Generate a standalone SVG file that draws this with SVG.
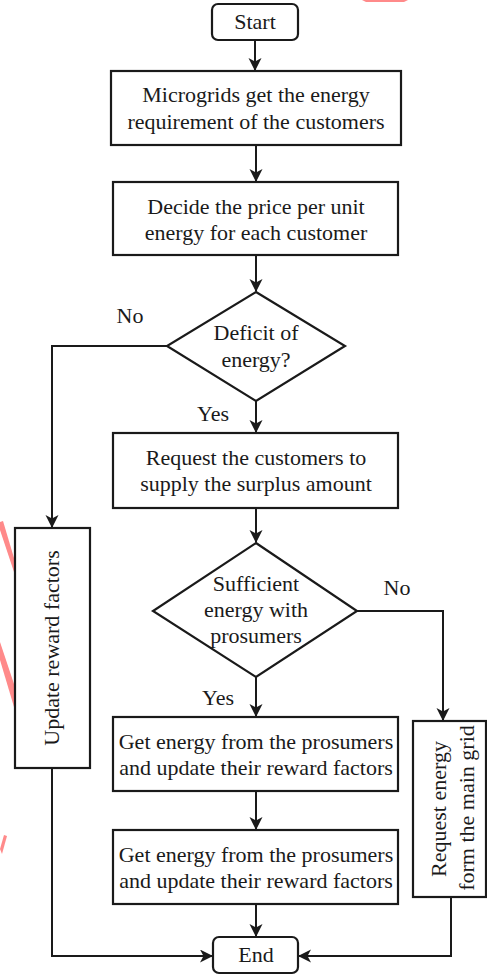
<svg xmlns="http://www.w3.org/2000/svg" width="487" height="977" viewBox="0 0 487 977">
<style>
.n{fill:#fff;stroke:#1a1a1a;stroke-width:2.2}
.t{font-family:"Liberation Serif","Times New Roman",serif;font-size:22px;fill:#1a1a1a;text-anchor:middle}
.e{fill:none;stroke:#1a1a1a;stroke-width:2}
.deco{fill:#ff8a8a;stroke:none}
</style>
<defs>
<marker id="ah" markerWidth="14" markerHeight="14" refX="12" refY="6.5" orient="auto" markerUnits="userSpaceOnUse">
<path d="M0,0 L13,6.5 L0,13 L3.5,6.5 z" fill="#1a1a1a"/>
</marker>
</defs>
<rect width="487" height="977" fill="#fff"/>
<g id="decorations">
<polygon class="deco" points="362,0 408,0 404,2 366,2"/>
<polygon class="deco" points="0,522 3,521 14,558 14,572 0,530"/>
<polygon class="deco" points="0,642 14,684 14,707 0,660"/>
<polygon class="deco" points="0,849 4,835 7,836 2,854"/>
</g>
<g id="connectors">
<path class="e" d="M255,40 V70" marker-end="url(#ah)"/>
<path class="e" d="M256,145 V181" marker-end="url(#ah)"/>
<path class="e" d="M256,255 V291" marker-end="url(#ah)"/>
<path class="e" d="M256,401 V432" marker-end="url(#ah)"/>
<path class="e" d="M256,508 V542" marker-end="url(#ah)"/>
<path class="e" d="M256,677 V716" marker-end="url(#ah)"/>
<path class="e" d="M256,791 V829" marker-end="url(#ah)"/>
<path class="e" d="M256,904 V936" marker-end="url(#ah)"/>
<path class="e" d="M167,346 H52 V527" marker-end="url(#ah)"/>
<path class="e" d="M357,611 H443 V720" marker-end="url(#ah)"/>
<path class="e" d="M52,768 V956 H212" marker-end="url(#ah)"/>
<path class="e" d="M451,897 V956 H299" marker-end="url(#ah)"/>
<text class="t" x="130" y="323">No</text>
<text class="t" x="213" y="421">Yes</text>
<text class="t" x="397" y="595">No</text>
<text class="t" x="218" y="705">Yes</text>
</g>
<g id="start">
<rect class="n" x="212" y="4" width="86" height="36" rx="6"/>
<text class="t" x="255" y="29">Start</text>
</g>
<g id="get-requirement">
<rect class="n" x="111" y="71" width="290" height="74"/>
<text class="t" x="256" y="102">Microgrids get the energy</text>
<text class="t" x="256" y="129">requirement of the customers</text>
</g>
<g id="decide-price">
<rect class="n" x="113" y="182" width="285" height="73"/>
<text class="t" x="256" y="214">Decide the price per unit</text>
<text class="t" x="256" y="240">energy for each customer</text>
</g>
<g id="deficit">
<polygon class="n" points="256,292 345,346 256,401 167,346"/>
<text class="t" x="256" y="340">Deficit of</text>
<text class="t" x="256" y="367">energy?</text>
</g>
<g id="request-surplus">
<rect class="n" x="113" y="433" width="285" height="75"/>
<text class="t" x="256" y="465">Request the customers to</text>
<text class="t" x="256" y="491">supply the surplus amount</text>
</g>
<g id="sufficient">
<polygon class="n" points="256,543 357,611 256,677 153,611"/>
<text class="t" x="256" y="591">Sufficient</text>
<text class="t" x="256" y="617">energy with</text>
<text class="t" x="256" y="643">prosumers</text>
</g>
<g id="update-reward">
<rect class="n" x="15" y="528" width="75" height="240"/>
<text class="t" transform="translate(59,648) rotate(-90)">Update reward factors</text>
</g>
<g id="get-energy-1">
<rect class="n" x="113" y="717" width="285" height="74"/>
<text class="t" x="256" y="749">Get energy from the prosumers</text>
<text class="t" x="256" y="775">and update their reward factors</text>
</g>
<g id="get-energy-2">
<rect class="n" x="113" y="830" width="285" height="74"/>
<text class="t" x="256" y="862">Get energy from the prosumers</text>
<text class="t" x="256" y="888">and update their reward factors</text>
</g>
<g id="request-main-grid">
<rect class="n" x="413" y="721" width="73" height="176"/>
<text class="t" transform="translate(446,809) rotate(-90)">Request energy</text>
<text class="t" transform="translate(474,808) rotate(-90)">form the main grid</text>
</g>
<g id="end">
<rect class="n" x="213" y="937" width="85" height="36" rx="6"/>
<text class="t" x="256" y="962">End</text>
</g>
</svg>
